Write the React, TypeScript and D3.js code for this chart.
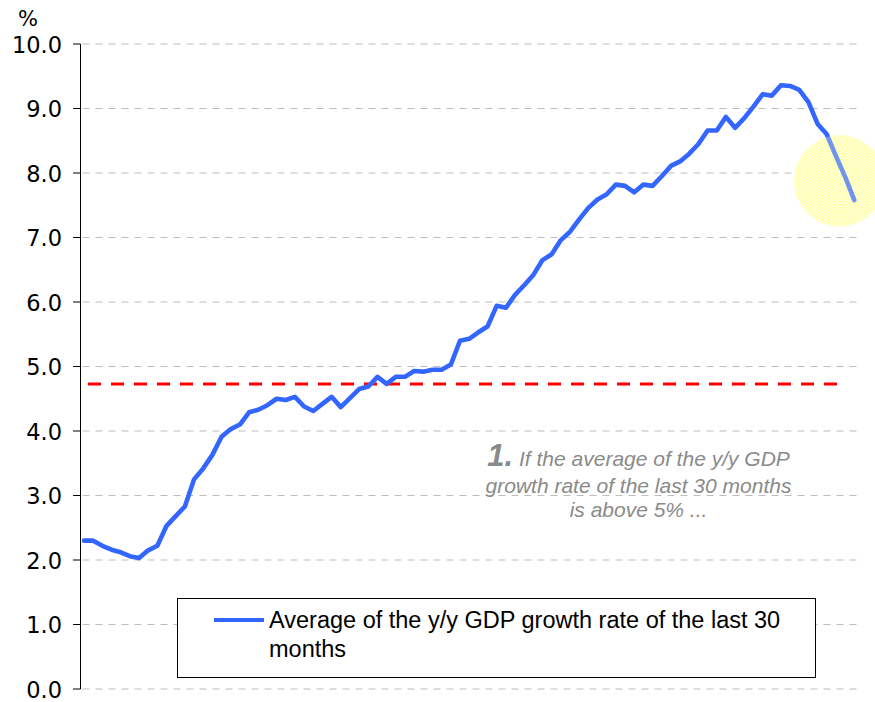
import React from "react";
import * as d3 from "d3";

// Average of the y/y GDP growth rate of the last 30 months (%), monthly points
const avgGrowth = [
  2.30, 2.30, 2.22, 2.16, 2.12, 2.06, 2.03, 2.15, 2.22, 2.53,
  2.68, 2.83, 3.25, 3.42, 3.63, 3.91, 4.03, 4.10, 4.29, 4.33,
  4.40, 4.50, 4.48, 4.53, 4.38, 4.31, 4.42, 4.53, 4.37, 4.51,
  4.65, 4.69, 4.84, 4.73, 4.84, 4.84, 4.93, 4.92, 4.95, 4.95,
  5.03, 5.40, 5.43, 5.53, 5.62, 5.94, 5.91, 6.11, 6.26, 6.42,
  6.65, 6.74, 6.96, 7.09, 7.28, 7.46, 7.59, 7.67, 7.82, 7.80,
  7.70, 7.82, 7.80, 7.95, 8.11, 8.18, 8.30, 8.45, 8.66, 8.66,
  8.87, 8.70, 8.85, 9.03, 9.22, 9.20, 9.36, 9.35, 9.29, 9.10,
  8.76, 8.60, 8.26, 7.94, 7.58,
];
const yTicks = [0, 1, 2, 3, 4, 5, 6, 7, 8, 9, 10];
const thresholdValue = 4.73;
const highlightIndex = 82.4;
const highlightValue = 7.88;
const legendLines = ["Average of the y/y GDP growth rate of the last 30", "months"];
const noteNumber = "1.";
const noteLines = [
  "If the average of the y/y GDP",
  "growth rate of the last 30 months",
  "is above 5% ...",
];
const unitLabel = "%";

const W = 875;
const H = 702;
const axisX = 80.5;
const plotRight = 860;

export default function App() {
  const x = d3.scaleLinear().domain([0, avgGrowth.length - 1]).range([84, 854.3]);
  const y = d3.scaleLinear().domain([0, 10]).range([689, 44]);
  const line = d3
    .line<number>()
    .x((_, i) => x(i))
    .y((d) => y(d))
    .curve(d3.curveLinear);
  const path = line(avgGrowth) || "";
  const cx = x(highlightIndex);
  const cy = y(highlightValue);

  return (
    <div style={{ position: "absolute", left: 0, top: 0 }}>
      <svg width={W} height={H} style={{ display: "block", background: "#fff" }}>
        <defs>
          <pattern id="dots" width="3" height="3" patternUnits="userSpaceOnUse">
            <rect width="3" height="3" fill="#ffffe6" />
            <rect x="0" y="0" width="1.5" height="1.5" fill="#ffff8c" />
            <rect x="1.5" y="1.5" width="1.5" height="1.5" fill="#ffffb0" />
          </pattern>
        </defs>

        {/* gridlines */}
        {yTicks.map((t) => (
          <line
            key={"g" + t}
            x1={axisX + 2}
            x2={plotRight}
            y1={y(t)}
            y2={y(t)}
            stroke="#bdbdbd"
            strokeWidth={1}
            strokeDasharray="7 6"
          />
        ))}

        {/* y axis */}
        <line x1={axisX} x2={axisX} y1={y(10)} y2={y(0)} stroke="#000" strokeWidth={1} />
        {yTicks.map((t) => (
          <g key={"t" + t}>
            <line x1={73} x2={axisX} y1={y(t)} y2={y(t)} stroke="#000" strokeWidth={1} />
            <text
              x={62}
              y={y(t) + 8.5}
              textAnchor="end"
              fontFamily="'DejaVu Sans', Verdana, sans-serif"
              fontSize={22.5}
              fill="#000"
            >
              {t.toFixed(1)}
            </text>
          </g>
        ))}
        <text
          x={18}
          y={25.5}
          fontFamily="'DejaVu Sans', Verdana, sans-serif"
          fontSize={21}
          fill="#000"
        >
          {unitLabel}
        </text>

        {/* threshold */}
        <line
          x1={88}
          x2={847}
          y1={y(thresholdValue)}
          y2={y(thresholdValue)}
          stroke="#ff0000"
          strokeWidth={3}
          strokeDasharray="13 10"
        />

        {/* highlight underlay */}
        <circle cx={cx} cy={cy} r={45.5} fill="url(#dots)" />

        {/* data line */}
        <path
          d={path}
          fill="none"
          stroke="#3366ff"
          strokeWidth={4.6}
          strokeLinejoin="round"
          strokeLinecap="round"
        />

        {/* highlight overlay */}
        <circle cx={cx} cy={cy} r={45.5} fill="url(#dots)" opacity={0.3} />

        {/* annotation */}
        <text
          x={638.5}
          y={466}
          textAnchor="middle"
          fontFamily="'Liberation Sans', Arial, sans-serif"
          fontStyle="italic"
          fill="#8a8a8a"
        >
          <tspan fontSize={31} fontWeight="bold">
            {noteNumber}
          </tspan>
          <tspan fontSize={21} dx={6}>
            {noteLines[0]}
          </tspan>
        </text>
        {noteLines.slice(1).map((l, i) => (
          <text
            key={"n" + i}
            x={638.5}
            y={492.5 + i * 24.5}
            textAnchor="middle"
            fontFamily="'Liberation Sans', Arial, sans-serif"
            fontStyle="italic"
            fontSize={21}
            fill="#8a8a8a"
          >
            {l}
          </text>
        ))}

        {/* legend */}
        <rect x={177.5} y={598.5} width={638} height={79} fill="#fff" stroke="#000" strokeWidth={1} />
        <line x1={214} x2={264} y1={620} y2={620} stroke="#3366ff" strokeWidth={4} />
        {legendLines.map((l, i) => (
          <text
            key={"l" + i}
            x={269}
            y={628 + i * 29}
            fontFamily="'Liberation Sans', Arial, sans-serif"
            fontSize={23.5}
            fill="#000"
          >
            {l}
          </text>
        ))}
      </svg>
    </div>
  );
}
